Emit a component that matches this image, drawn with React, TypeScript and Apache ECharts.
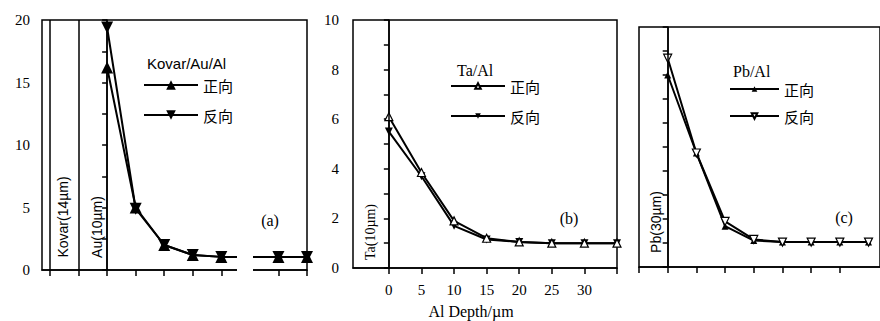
import React, { useEffect, useRef } from "react";
import * as echarts from "echarts";

// Panel (a) Kovar/Au/Al
const depthA = [0, 5, 10, 15, 20, 30, 35];
const fwdA = [16.2, 5.0, 2.0, 1.2, 1.05, 1.05, 1.05];
const revA = [19.4, 4.9, 2.0, 1.2, 1.05, 1.05, 1.05];
// Panel (b) Ta/Al
const depthB = [0, 5, 10, 15, 20, 25, 30, 35];
const fwdB = [6.1, 3.85, 1.9, 1.2, 1.05, 1.0, 1.0, 1.0];
const revB = [5.5, 3.7, 1.7, 1.15, 1.05, 1.0, 1.0, 1.0];
// Panel (c) Pb/Al
const depthC = [0, 5, 10, 15, 20, 25, 30, 35];
const fwdC = [8.0, 4.75, 1.7, 1.1, 1.04, 1.04, 1.04, 1.04];
const revC = [8.7, 4.75, 1.9, 1.15, 1.04, 1.04, 1.04, 1.04];

const ticksXA = [-10, -5, 0, 5, 10, 15, 20, 30, 35];
const ticksYA = [0, 2.5, 5, 7.5, 10, 12.5, 15, 17.5, 20];
const labelsYA = [0, 5, 10, 15, 20];
const ticksXB = [0, 5, 10, 15, 20, 25, 30, 35];
const labelsXB = [0, 5, 10, 15, 20, 25, 30];
const ticksYB = [0, 1, 2, 3, 4, 5, 6, 7, 8, 9, 10];
const labelsYB = [0, 2, 4, 6, 8, 10];
const ticksXC = [-5, 0, 5, 10, 15, 20, 25, 30];
const ticksYC = [0, 1, 2, 3, 4, 5, 6, 7, 8, 9, 10];

const layerLinesA = [-10, -5, 0];
const layerLinesB = [0];
const layerLinesC = [0];

const SERIF = "Liberation Serif, Times New Roman, serif";
const SANS = "Liberation Sans, Arial, sans-serif";
const CJK = "Noto Sans CJK SC, sans-serif";

const pairs = (xs: number[], ys: number[]) => xs.map((x, i) => [x, ys[i]]);

export default function App() {
  const ref = useRef<HTMLDivElement>(null);
  useEffect(() => {
    if (!ref.current) return;
    const chart = echarts.init(ref.current, undefined, { renderer: "svg" });
    const axisLine = { show: true, lineStyle: { color: "#000", width: 1.5 } };
    const tickStyle = { lineStyle: { color: "#000", width: 1.5 } };
    const numLabel = { color: "#000", fontFamily: SERIF, fontSize: 15 };

    const markLines = (vals: number[]) => ({
      silent: true,
      symbol: "none",
      label: { show: false },
      lineStyle: { color: "#000", width: 1.5, type: "solid" as const },
      data: vals.map((v) => ({ xAxis: v })),
    });

    const lineSeries = (
      name: string,
      idx: number,
      xs: number[],
      ys: number[],
      size: number,
      rotate: number,
      hollow: boolean,
      width: number,
      ml?: number[]
    ) => ({
      type: "line",
      name,
      xAxisIndex: idx,
      yAxisIndex: idx,
      data: pairs(xs, ys),
      symbol: "triangle",
      symbolSize: size,
      symbolRotate: rotate,
      showAllSymbol: true,
      lineStyle: { color: "#000", width },
      itemStyle: hollow
        ? { color: "#fff", borderColor: "#000", borderWidth: 1.2 }
        : { color: "#000", borderColor: "#000", borderWidth: 0 },
      z: hollow ? 4 : 3,
      markLine: ml ? markLines(ml) : undefined,
    });

    const legendBase = {
      orient: "vertical" as const,
      padding: 0,
      formatter: (n: string) => n.slice(1),
      textStyle: { color: "#000", fontFamily: CJK, fontSize: 15, lineHeight: 16 },
      selectedMode: false,
    };

    chart.setOption({
      animation: false,
      backgroundColor: "#fff",
      grid: [
        { left: 42, top: 20, width: 265, height: 250, show: true, borderColor: "#000", borderWidth: 1.5 },
        { left: 353, top: 20, width: 264, height: 248, show: true, borderColor: "#000", borderWidth: 1.5 },
        { left: 639, top: 27, right: -17, height: 240, show: true, borderColor: "#000", borderWidth: 1.5 },
      ],
      xAxis: [
        {
          type: "value", gridIndex: 0, min: -11.4, max: 35,
          axisLine, splitLine: { show: false },
          axisTick: { show: true, inside: false, length: 6, customValues: ticksXA, ...tickStyle },
          axisLabel: { show: false },
        },
        {
          type: "value", gridIndex: 1, min: -5.5, max: 35,
          axisLine, splitLine: { show: false },
          axisTick: { show: true, inside: false, length: 6, customValues: ticksXB, ...tickStyle },
          axisLabel: { show: true, customValues: labelsXB, margin: 14, ...numLabel },
        },
        {
          type: "value", gridIndex: 2, min: -5, max: 37,
          axisLine, splitLine: { show: false },
          axisTick: { show: true, inside: false, length: 6, customValues: ticksXC, ...tickStyle },
          axisLabel: { show: false },
        },
      ],
      yAxis: [
        {
          type: "value", gridIndex: 0, min: 0, max: 20,
          axisLine, splitLine: { show: false },
          axisTick: { show: true, inside: false, length: 5, customValues: ticksYA, ...tickStyle },
          axisLabel: { show: true, customValues: labelsYA, margin: 12, ...numLabel },
        },
        {
          type: "value", gridIndex: 1, min: 0, max: 10,
          axisLine, splitLine: { show: false },
          axisTick: { show: true, inside: false, length: 5, customValues: ticksYB, ...tickStyle },
          axisLabel: { show: true, customValues: labelsYB, margin: 14, ...numLabel },
        },
        {
          type: "value", gridIndex: 2, min: 0, max: 10,
          axisLine, splitLine: { show: false },
          axisTick: { show: true, inside: false, length: 5, customValues: ticksYC, ...tickStyle },
          axisLabel: { show: false },
        },
      ],
      legend: [
        { ...legendBase, data: ["a正向", "a反向"], left: 143, top: 77, itemWidth: 54, itemHeight: 12, itemGap: 14 },
        { ...legendBase, data: ["b正向", "b反向"], left: 450, top: 78, itemWidth: 54, itemHeight: 7, itemGap: 14 },
        { ...legendBase, data: ["c正向", "c反向"], left: 729, top: 81, itemWidth: 49, itemHeight: 7, itemGap: 11 },
      ],
      series: [
        lineSeries("a正向", 0, depthA, fwdA, 12, 0, false, 2, layerLinesA),
        lineSeries("a反向", 0, depthA, revA, 12, 180, false, 2),
        lineSeries("b正向", 1, depthB, fwdB, 8, 0, true, 2, layerLinesB),
        lineSeries("b反向", 1, depthB, revB, 8, 180, false, 2),
        lineSeries("c正向", 2, depthC, fwdC, 7, 0, false, 2, layerLinesC),
        lineSeries("c反向", 2, depthC, revC, 8, 180, true, 2),
      ],
      graphic: [
        // axis break in panel (a)
        { type: "rect", z: 100, shape: { x: 237, y: 250, width: 16, height: 28 }, style: { fill: "#fff" } },
        { type: "text", z: 101, x: 147, y: 63, style: { text: "Kovar/Au/Al", fontFamily: SANS, fontSize: 15, fill: "#000", align: "left", verticalAlign: "middle" } },
        { type: "text", z: 101, x: 457, y: 70, style: { text: "Ta/Al", fontFamily: SERIF, fontSize: 16, fill: "#000", align: "left", verticalAlign: "middle" } },
        { type: "text", z: 101, x: 733, y: 71, style: { text: "Pb/Al", fontFamily: SERIF, fontSize: 16, fill: "#000", align: "left", verticalAlign: "middle" } },
        { type: "text", z: 101, x: 270, y: 220, style: { text: "(a)", fontFamily: SERIF, fontSize: 16, fill: "#000", align: "center", verticalAlign: "middle" } },
        { type: "text", z: 101, x: 569, y: 218, style: { text: "(b)", fontFamily: SERIF, fontSize: 16, fill: "#000", align: "center", verticalAlign: "middle" } },
        { type: "text", z: 101, x: 844, y: 217, style: { text: "(c)", fontFamily: SERIF, fontSize: 16, fill: "#000", align: "center", verticalAlign: "middle" } },
        { type: "text", z: 101, x: 63, y: 217, rotation: Math.PI / 2, style: { text: "Kovar(14µm)", fontFamily: SANS, fontSize: 14, fill: "#000", align: "center", verticalAlign: "middle" } },
        { type: "text", z: 101, x: 97, y: 227, rotation: Math.PI / 2, style: { text: "Au(10µm)", fontFamily: SANS, fontSize: 14, fill: "#000", align: "center", verticalAlign: "middle" } },
        { type: "text", z: 101, x: 370, y: 232, rotation: Math.PI / 2, style: { text: "Ta(10µm)", fontFamily: SERIF, fontSize: 14, fill: "#000", align: "center", verticalAlign: "middle" } },
        { type: "text", z: 101, x: 656, y: 222, rotation: Math.PI / 2, style: { text: "Pb(30µm)", fontFamily: SANS, fontSize: 14, fill: "#000", align: "center", verticalAlign: "middle" } },
        { type: "text", z: 101, x: 471, y: 311, style: { text: "Al Depth/µm", fontFamily: SERIF, fontSize: 16, fill: "#000", align: "center", verticalAlign: "middle" } },
      ],
    });
    return () => chart.dispose();
  }, []);
  return <div ref={ref} style={{ position: "absolute", left: 0, top: 0, width: 880, height: 321 }} />;
}
